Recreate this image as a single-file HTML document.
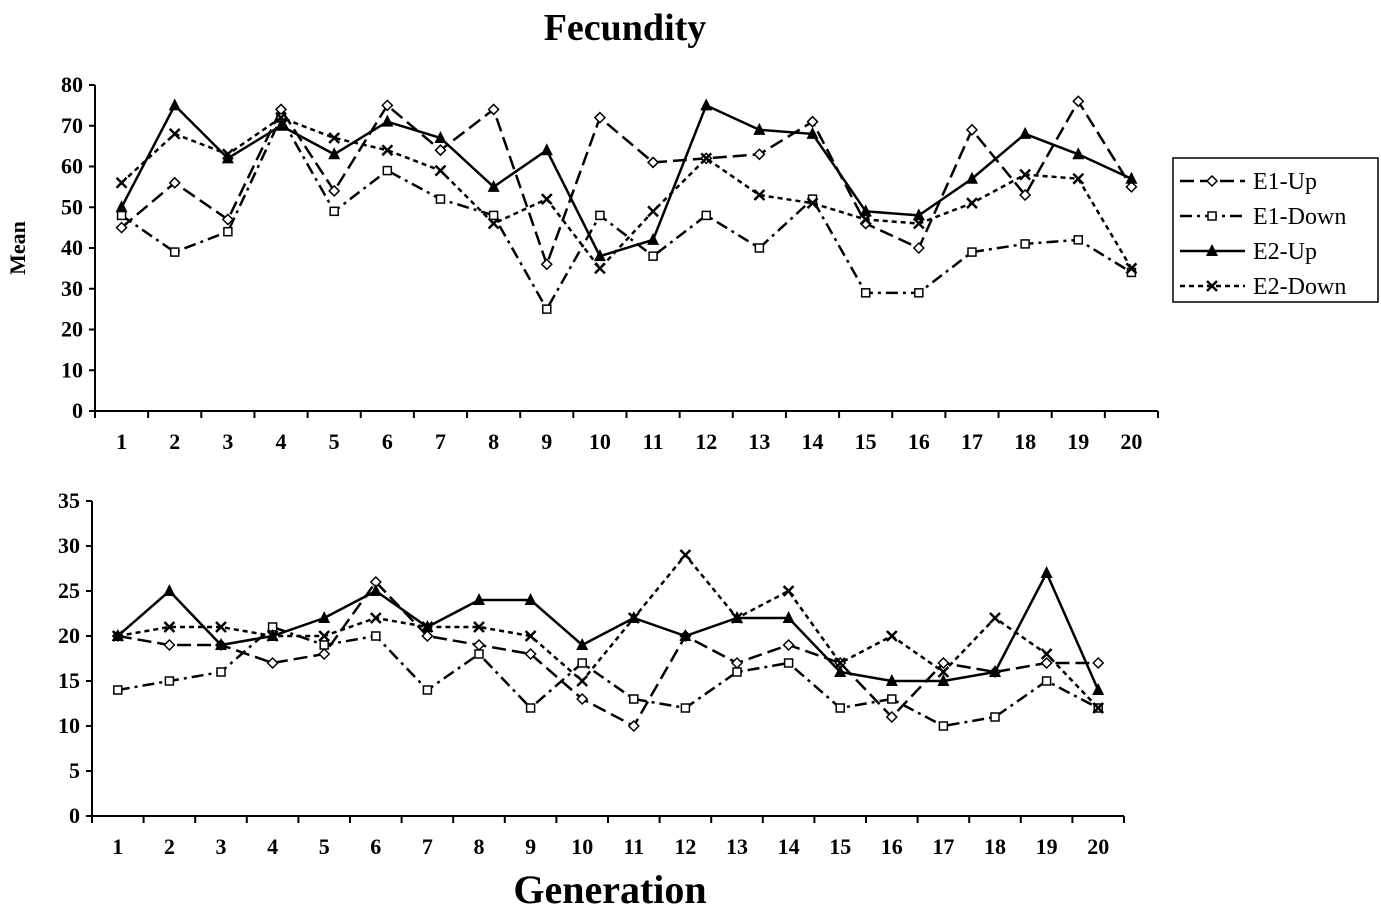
<!DOCTYPE html>
<html><head><meta charset="utf-8"><style>
body{margin:0;background:#fff;}
svg text{font-family:"Liberation Serif",serif;font-weight:bold;fill:#000;}
</style></head><body>
<svg id="chart" width="1381" height="915" xmlns="http://www.w3.org/2000/svg">
<text x="625" y="40" font-size="38" text-anchor="middle">Fecundity</text>
<text x="0" y="0" font-size="22" text-anchor="middle" transform="translate(25,248) rotate(-90)">Mean</text>
<text x="610" y="903" font-size="40" text-anchor="middle">Generation</text>
<g id="top"></g><g id="bot"></g><g id="legend"></g>
</svg>
<script>
const categories=[1,2,3,4,5,6,7,8,9,10,11,12,13,14,15,16,17,18,19,20];
const topE1Up=[45,56,47,74,54,75,64,74,36,72,61,62,63,71,46,40,69,53,76,55];
const topE1Down=[48,39,44,72,49,59,52,48,25,48,38,48,40,52,29,29,39,41,42,34];
const topE2Up=[50,75,62,70,63,71,67,55,64,38,42,75,69,68,49,48,57,68,63,57];
const topE2Down=[56,68,63,72,67,64,59,46,52,35,49,62,53,51,47,46,51,58,57,35];
const botE1Up=[20,19,19,17,18,26,20,19,18,13,10,20,17,19,17,11,17,16,17,17];
const botE1Down=[14,15,16,21,19,20,14,18,12,17,13,12,16,17,12,13,10,11,15,12];
const botE2Up=[20,25,19,20,22,25,21,24,24,19,22,20,22,22,16,15,15,16,27,14];
const botE2Down=[20,21,21,20,20,22,21,21,20,15,22,29,22,25,17,20,16,22,18,12];
const topTicks=[0,10,20,30,40,50,60,70,80];
const botTicks=[0,5,10,15,20,25,30,35];
const seriesNames=["E1-Up","E1-Down","E2-Up","E2-Down"];
const NS="http://www.w3.org/2000/svg";
const styles={"E1-Up":{dash:"14,6",m:"diamond"},"E1-Down":{dash:"12,5,3,5",m:"square"},"E2-Up":{dash:"",m:"tri"},"E2-Down":{dash:"5,4",m:"x"}};
function mk(tag,attrs,parent){const e=document.createElementNS(NS,tag);for(const k in attrs)e.setAttribute(k,attrs[k]);parent.appendChild(e);return e;}
function marker(g,m,x,y){
  let e;
  if(m==="diamond")e=mk("polygon",{points:`${x},${y-5} ${x+5},${y} ${x},${y+5} ${x-5},${y}`,fill:"#fff",stroke:"#000","stroke-width":1.5},g);
  else if(m==="square")e=mk("rect",{x:x-4,y:y-4,width:8,height:8,fill:"#fff",stroke:"#000","stroke-width":1.5},g);
  else if(m==="tri")e=mk("polygon",{points:`${x},${y-7} ${x+6},${y+5} ${x-6},${y+5}`,fill:"#000"},g);
  else e=mk("path",{d:`M${x-5},${y-5}L${x+5},${y+5}M${x-5},${y+5}L${x+5},${y-5}`,stroke:"#000","stroke-width":2.5},g);
  
  
}
function panel(id,x0,x1,yTop,yBot,ymax,ticks,data,name){
  const g=document.getElementById(id);
  
  
  const n=categories.length,step=(x1-x0)/n;
  const X=i=>x0+step*(i+0.5);
  const Y=v=>yBot-(v/ymax)*(yBot-yTop);
  const ax=mk("path",{d:`M${x0},${yTop}L${x0},${yBot}L${x1},${yBot}`,stroke:"#000","stroke-width":2,fill:"none"},g);
  
  
  ticks.forEach(t=>{
    mk("line",{x1:x0-6,x2:x0,y1:Y(t),y2:Y(t),stroke:"#000","stroke-width":2},g);
    const tx=mk("text",{x:x0-12,y:Y(t)+7,"font-size":22,"text-anchor":"end"},g);tx.textContent=t;
    
    
  });
  for(let i=0;i<=n;i++)mk("line",{x1:x0+step*i,x2:x0+step*i,y1:yBot,y2:yBot+7,stroke:"#000","stroke-width":2},g);
  categories.forEach((c,i)=>{
    const tx=mk("text",{x:X(i),y:yBot+38,"font-size":22,"text-anchor":"middle"},g);tx.textContent=c;
    
    
  });
  data.forEach((vals,si)=>{
    const st=styles[seriesNames[si]];
    const sg=mk("g",{},g);
    
    
    const l=mk("polyline",{points:vals.map((v,i)=>X(i)+","+Y(v)).join(" "),fill:"none",stroke:"#000","stroke-width":2.5,"stroke-dasharray":st.dash},sg);
    
    
    vals.forEach((v,i)=>marker(sg,st.m,X(i),Y(v)));
  });
}
panel("top",95,1158,85,411,80,topTicks,[topE1Up,topE1Down,topE2Up,topE2Down],"top-panel");
panel("bot",92,1124,501,816,35,botTicks,[botE1Up,botE1Down,botE2Up,botE2Down],"bottom-panel");
const lg=document.getElementById("legend");


mk("rect",{x:1173,y:158,width:205,height:144,fill:"#fff",stroke:"#000","stroke-width":1.5},lg);
seriesNames.forEach((s,i)=>{
  const y=181+i*35;
  const eg=mk("g",{},lg);
  
  
  mk("line",{x1:1180,x2:1245,y1:y,y2:y,stroke:"#000","stroke-width":2.5,"stroke-dasharray":styles[s].dash},eg);
  marker(eg,styles[s].m,1212,y);
  const t=mk("text",{x:1253,y:y+8,"font-size":24},eg);t.textContent=s;t.setAttribute("font-weight","normal");t.style.fontWeight="normal";
});
</script>
</body></html>
